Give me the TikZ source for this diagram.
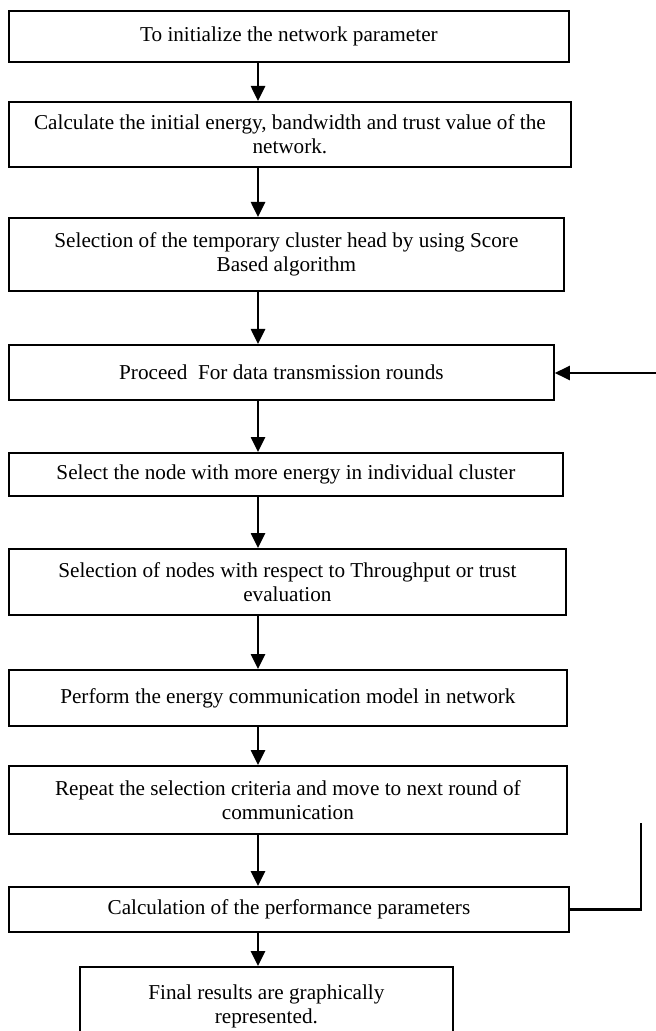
\documentclass[tikz,border=0pt]{standalone}
\usepackage{fontspec}
\setmainfont{Liberation Serif}
\usetikzlibrary{arrows.meta}
\tikzset{
  fcbox/.style={
    draw=black,
    line width=0.9pt,
    fill=white,
    align=center,
    anchor=north west,
    inner sep=2pt,
    font=\fontsize{10.6}{12.2}\selectfont
  },
  fcflow/.style={-{Triangle[length=7.5pt,width=7pt]},draw=black,line width=1.3pt},
  fcline/.style={draw=black,line width=1.3pt}
}

\begin{document}
\begin{tikzpicture}[x=0.5pt,y=-0.5pt]
  \useasboundingbox (0,0) rectangle (656,1031);
  \clip (0,0) rectangle (656,1031);
  \coordinate (spine) at (258,0);
  \node[fcbox,minimum width=280pt,minimum height=25.5pt] (init) at (8,10) {To initialize the network parameter};
  \node[fcbox,minimum width=281pt,minimum height=32.5pt] (energy) at (8,101) {Calculate the initial energy, bandwidth and trust value of the\\network.};
  \node[fcbox,minimum width=277.5pt,minimum height=36.5pt] (tempch) at (8,217) {Selection of the temporary cluster head by using Score\\Based algorithm};
  \node[fcbox,minimum width=272.5pt,minimum height=27.5pt] (rounds) at (8,344) {Proceed\ \ For data transmission rounds};
  \node[fcbox,minimum width=277pt,minimum height=21.5pt] (maxenergy) at (8,452) {Select the node with more energy in individual cluster};
  \node[fcbox,minimum width=278.5pt,minimum height=33pt] (throughput) at (8,548) {Selection of nodes with respect to Throughput or trust\\evaluation};
  \node[fcbox,minimum width=279pt,minimum height=28pt] (commmodel) at (8,669) {Perform the energy communication model in network};
  \node[fcbox,minimum width=279pt,minimum height=34pt] (repeat) at (8,765) {Repeat the selection criteria and move to next round of\\communication};
  \node[fcbox,minimum width=280pt,minimum height=22.5pt] (perf) at (8,886) {Calculation of the performance parameters};
  \node[fcbox,minimum width=186.5pt,minimum height=39.5pt] (results) at (79,966) {Final results are graphically\\represented.};
  % main flow
  \draw[fcflow] (init.south -| spine) -- (energy.north -| spine);
  \draw[fcflow] (energy.south -| spine) -- (tempch.north -| spine);
  \draw[fcflow] (tempch.south -| spine) -- (rounds.north -| spine);
  \draw[fcflow] (rounds.south -| spine) -- (maxenergy.north -| spine);
  \draw[fcflow] (maxenergy.south -| spine) -- (throughput.north -| spine);
  \draw[fcflow] (throughput.south -| spine) -- (commmodel.north -| spine);
  \draw[fcflow] (commmodel.south -| spine) -- (repeat.north -| spine);
  \draw[fcflow] (repeat.south -| spine) -- (perf.north -| spine);
  \draw[fcflow] (perf.south -| spine) -- (results.north -| spine);
  % loop back
  \coordinate (looptop) at (641,823);
  \coordinate (loopin) at (656,373);
  \draw[fcline] (perf.east) -| (looptop);
  \draw[fcflow] (loopin) -- (rounds.east |- loopin);
\end{tikzpicture}
\end{document}
